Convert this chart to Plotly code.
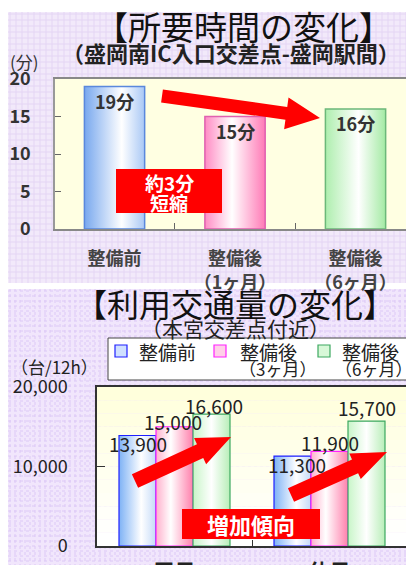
import math
import plotly.graph_objects as go

W, H = 414, 565
OFF = 8  # page body margin offset

# ---------------- data ----------------
time_categories = ["整備前", "整備後<br>（1ヶ月）", "整備後<br>（6ヶ月）"]
travel_minutes = [19, 15, 16]
time_ticks = [0, 5, 10, 15, 20]

traffic_categories = ["平日", "休日"]
traffic_before = [13900, 11300]
traffic_after_3m = [15000, 11900]
traffic_after_6m = [16600, 15700]
traffic_ticks = [0, 10000, 20000]
series_names = ["整備前", "整備後", "整備後"]
series_sub = ["", "（3ヶ月）", "（6ヶ月）"]

FONT = "Noto Sans CJK JP, Noto Sans, sans-serif"


def px(x):
    return (x - OFF) / W


def py(y):
    return 1 - (y - OFF) / H


def note(x, y, text, size, color="#222", weight="normal", xanchor="center"):
    return dict(x=px(x), y=py(y), xref="paper", yref="paper", text=text, showarrow=False,
                xanchor=xanchor, yanchor="middle",
                font=dict(family=FONT, size=size, color=color, weight=weight))


fig = go.Figure()
shapes = []
annotations = []

# ---------------- panel backgrounds ----------------
shapes.append(dict(type="rect", xref="paper", yref="paper", x0=px(8), x1=1, y0=py(283), y1=py(12),
                   fillcolor="#F2E9FA", line_width=0, layer="below"))
for gx in range(10, W + OFF, 6):
    shapes.append(dict(type="line", xref="paper", yref="paper", x0=px(gx), x1=px(gx), y0=py(283), y1=py(12),
                       line=dict(color="#E4D5F4", width=1), layer="below"))
for gy in range(14, 283, 6):
    shapes.append(dict(type="line", xref="paper", yref="paper", x0=px(8), x1=1, y0=py(gy), y1=py(gy),
                       line=dict(color="#E4D5F4", width=1), layer="below"))

shapes.append(dict(type="rect", xref="paper", yref="paper", x0=px(8), x1=1, y0=0, y1=py(289),
                   fillcolor="#F1E6FC", line_width=0, layer="below"))
for gx in range(10, W + OFF, 5):
    shapes.append(dict(type="line", xref="paper", yref="paper", x0=px(gx), x1=px(gx), y0=0, y1=py(289),
                       line=dict(color="#DCC8F6", width=1, dash="dot"), layer="below"))
for gy in range(291, H + OFF, 5):
    shapes.append(dict(type="line", xref="paper", yref="paper", x0=px(8), x1=1, y0=py(gy), y1=py(gy),
                       line=dict(color="#DCC8F6", width=1, dash="dot"), layer="below"))

# plot-area fills
TOP_DOM_X = [px(55), 1.0]
TOP_DOM_Y = [py(229), py(79)]
BOT_DOM_X = [px(97), px(407)]
BOT_DOM_Y = [py(546), py(387)]
top_px_w = (TOP_DOM_X[1] - TOP_DOM_X[0]) * W
top_range = [-0.494, -0.494 + top_px_w / 120.5]

shapes.append(dict(type="rect", xref="paper", yref="paper", x0=TOP_DOM_X[0], x1=TOP_DOM_X[1],
                   y0=TOP_DOM_Y[0], y1=TOP_DOM_Y[1], fillcolor="#FFFFE2", line_width=0, layer="below"))
nb = 12
for i in range(nb):
    t = i / (nb - 1)
    g = int(round(0xDC + (0xFF - 0xDC) * t))
    col = "#FFFF%02X" % g
    y0 = BOT_DOM_Y[1] - (BOT_DOM_Y[1] - BOT_DOM_Y[0]) * i / nb
    y1 = BOT_DOM_Y[1] - (BOT_DOM_Y[1] - BOT_DOM_Y[0]) * (i + 1) / nb
    shapes.append(dict(type="rect", xref="paper", yref="paper", x0=BOT_DOM_X[0], x1=BOT_DOM_X[1],
                       y0=y1, y1=y0, fillcolor=col, line_width=0, layer="below"))

# ---------------- top chart bars ----------------
TOP_BW = 0.5
top_styles = [
    dict(l="#78A8EE", r="#A9C8F5", mid=0.62, line="#5A88DD"),
    dict(l="#FF8CC4", r="#FF7AB6", mid=0.45, line="#E060B0"),
    dict(l="#AEEEAE", r="#A4EAA4", mid=0.55, line="#6CB87A"),
]
fig.add_trace(go.Bar(x=list(range(len(travel_minutes))), y=travel_minutes, width=TOP_BW,
                     marker=dict(color=[s["l"] for s in top_styles]), showlegend=False,
                     xaxis="x", yaxis="y", hoverinfo="skip"))
for i, v in enumerate(travel_minutes):
    s = top_styles[i]
    x0, x1 = i - TOP_BW / 2, i + TOP_BW / 2
    fig.add_trace(go.Scatter(x=[x0, x1, x1, x0, x0], y=[0, 0, v, v, 0], mode="lines", fill="toself",
                             fillgradient=dict(type="horizontal",
                                               colorscale=[[0, s["l"]], [s["mid"], "#FFFFFF"], [1, s["r"]]]),
                             line=dict(color=s["line"], width=1.5), showlegend=False, hoverinfo="skip",
                             xaxis="x", yaxis="y"))
    annotations.append(dict(x=i, y=v, xref="x", yref="y", text=f"{v}分", showarrow=False,
                            xanchor="center", yanchor="middle", yshift=-14,
                            font=dict(family=FONT, size=18, color="#333", weight="bold")))

# ---------------- bottom chart bars ----------------
BOT_BW = 0.2387
bot_series = [traffic_before, traffic_after_3m, traffic_after_6m]
bot_styles = [
    dict(l="#7EB2F5", r="#C4DAF8", mid=0.6, line="#2020FF", icon="#CFE0FF"),
    dict(l="#FFB0CC", r="#FF80AC", mid=0.4, line="#FF22FF", icon="#FFD0E8"),
    dict(l="#C8F5C8", r="#B8EEB8", mid=0.5, line="#3CA860", icon="#D8F8D8"),
]
bot_offsets = [-BOT_BW, 0.0, BOT_BW]
label_dy = [[-8, -8], [5, 9], [9, 14]]
label_dx = [[0, 4], [-2, 0], [2, 0]]
for k, vals in enumerate(bot_series):
    s = bot_styles[k]
    centers = [j + bot_offsets[k] for j in range(len(vals))]
    fig.add_trace(go.Bar(x=centers, y=vals, width=BOT_BW, marker=dict(color=s["l"]),
                         showlegend=False, xaxis="x2", yaxis="y2", hoverinfo="skip"))
    for j, v in enumerate(vals):
        c = centers[j]
        x0, x1 = c - BOT_BW / 2, c + BOT_BW / 2
        fig.add_trace(go.Scatter(x=[x0, x1, x1, x0, x0], y=[0, 0, v, v, 0], mode="lines", fill="toself",
                                 fillgradient=dict(type="horizontal",
                                                   colorscale=[[0, s["l"]], [s["mid"], "#FFFFFF"], [1, s["r"]]]),
                                 line=dict(color=s["line"], width=1.2), showlegend=False, hoverinfo="skip",
                                 xaxis="x2", yaxis="y2"))
        annotations.append(dict(x=c, y=v, xref="x2", yref="y2", text=f"{v:,}", showarrow=False,
                                xanchor="center", yanchor="middle", yshift=label_dy[k][j],
                                xshift=label_dx[k][j],
                                font=dict(family=FONT, size=19, color="#222")))


# ---------------- arrows (decoration) ----------------
def arrow_path(tail, tip, bw, hw, hl):
    dx, dy = tip[0] - tail[0], tip[1] - tail[1]
    L = math.hypot(dx, dy)
    ux, uy = dx / L, dy / L
    nx, ny = -uy, ux
    bx, by = tip[0] - ux * hl, tip[1] - uy * hl
    pts = [
        (tail[0] + nx * bw, tail[1] + ny * bw),
        (bx + nx * bw, by + ny * bw),
        (bx + nx * hw, by + ny * hw),
        tip,
        (bx - nx * hw, by - ny * hw),
        (bx - nx * bw, by - ny * bw),
        (tail[0] - nx * bw, tail[1] - ny * bw),
    ]
    return "M " + " L ".join(f"{px(x):.5f},{py(y):.5f}" for x, y in pts) + " Z"


for tail, tip, bw, hw, hl in [((162, 96), (320, 118), 6.5, 16, 34),
                              ((135, 481), (231, 437), 7.5, 14.5, 34),
                              ((291, 495), (387, 452), 7.5, 14, 35)]:
    shapes.append(dict(type="path", xref="paper", yref="paper", path=arrow_path(tail, tip, bw, hw, hl),
                       fillcolor="#FF0000", line_width=0, layer="above"))

# red boxes
shapes.append(dict(type="rect", xref="paper", yref="paper", x0=px(116), x1=px(222), y0=py(213), y1=py(169),
                   fillcolor="#FF0000", line_width=0, layer="above"))
shapes.append(dict(type="rect", xref="paper", yref="paper", x0=px(182), x1=px(320), y0=py(539), y1=py(509),
                   fillcolor="#FF0000", line_width=0, layer="above"))
annotations.append(note(169, 182, "約3分", 19, "white", "bold"))
annotations.append(note(169, 202, "短縮", 19, "white", "bold"))
annotations.append(note(251, 524, "増加傾向", 22, "white", "bold"))

# ---------------- titles / units ----------------
annotations += [
    note(243, 26, "【所要時間の変化】", 33, "#111"),
    note(231, 52, "（盛岡南IC入口交差点-盛岡駅間）", 22, "#222", "bold"),
    note(8, 62, "(分)", 17, "#333", xanchor="left"),
    note(235, 303, "【利用交通量の変化】", 32, "#111"),
    note(235, 328, "（本宮交差点付近）", 21, "#222"),
    note(9, 366, "（台/12h）", 17, "#222", xanchor="left"),
]

# ---------------- legend (drawn) ----------------
shapes.append(dict(type="rect", xref="paper", yref="paper", x0=px(108), x1=px(409), y0=py(380), y1=py(338),
                   fillcolor="white", line=dict(color="#444", width=1), layer="above"))
icon_x = [115, 214, 318]
text_x = [137, 238, 340]
sub_x = [0, 237, 333]
for k in range(3):
    s = bot_styles[k]
    shapes.append(dict(type="rect", xref="paper", yref="paper", x0=px(icon_x[k]), x1=px(icon_x[k] + 12),
                       y0=py(357), y1=py(345), fillcolor=s["icon"], line=dict(color=s["line"], width=1.2),
                       layer="above"))
    annotations.append(note(text_x[k], 351, series_names[k], 19, "#222", xanchor="left"))
    if series_sub[k]:
        annotations.append(note(sub_x[k], 369, series_sub[k], 17, "#222", xanchor="left"))

fig.update_layout(
    template="none",
    width=W, height=H, margin=dict(l=0, r=0, t=0, b=0, pad=0, autoexpand=False),
    paper_bgcolor="white", plot_bgcolor="rgba(0,0,0,0)",
    barmode="overlay", showlegend=False,
    shapes=shapes, annotations=annotations,
    xaxis=dict(domain=TOP_DOM_X, range=top_range, tickvals=list(range(3)), ticktext=time_categories,
               ticks="", showgrid=False, zeroline=False, showline=True, linecolor="#888", linewidth=1.5,
               mirror=True, ticklabelstandoff=13, automargin=False,
               minor=dict(tickvals=[0.5, 1.5], ticks="inside", ticklen=6, tickcolor="#666"),
               tickfont=dict(family=FONT, size=18, color="#444", weight="bold"), fixedrange=True),
    yaxis=dict(domain=TOP_DOM_Y, range=[0, 20], tickvals=time_ticks, ticks="inside", ticklen=6,
               tickcolor="#666", showgrid=False, zeroline=False, showline=True, linecolor="#999",
               linewidth=1.5, mirror=True, ticklabelstandoff=19, automargin=False,
               tickfont=dict(family=FONT, size=18, color="#333", weight="bold"), fixedrange=True),
    xaxis2=dict(domain=BOT_DOM_X, anchor="y2", range=[-0.5, 1.5], tickvals=[0, 1], ticktext=traffic_categories,
                ticks="", showgrid=False, zeroline=False, showline=True, linecolor="#333", linewidth=1.5,
                mirror=True, ticklabelstandoff=6, automargin=False,
                minor=dict(tickvals=[0.5], ticks="inside", ticklen=6, tickcolor="#333"),
                tickfont=dict(family=FONT, size=21, color="#222", weight="bold"), fixedrange=True),
    yaxis2=dict(domain=BOT_DOM_Y, anchor="x2", range=[0, 20000], tickvals=traffic_ticks, tickformat=",",
                ticks="inside", ticklen=8, tickcolor="#333", showgrid=False, zeroline=False, showline=True,
                linecolor="#333", linewidth=1.5, mirror=True, ticklabelstandoff=24, automargin=False,
                tickfont=dict(family=FONT, size=18, color="#222"), fixedrange=True),
)

fig.write_html("out.html")
